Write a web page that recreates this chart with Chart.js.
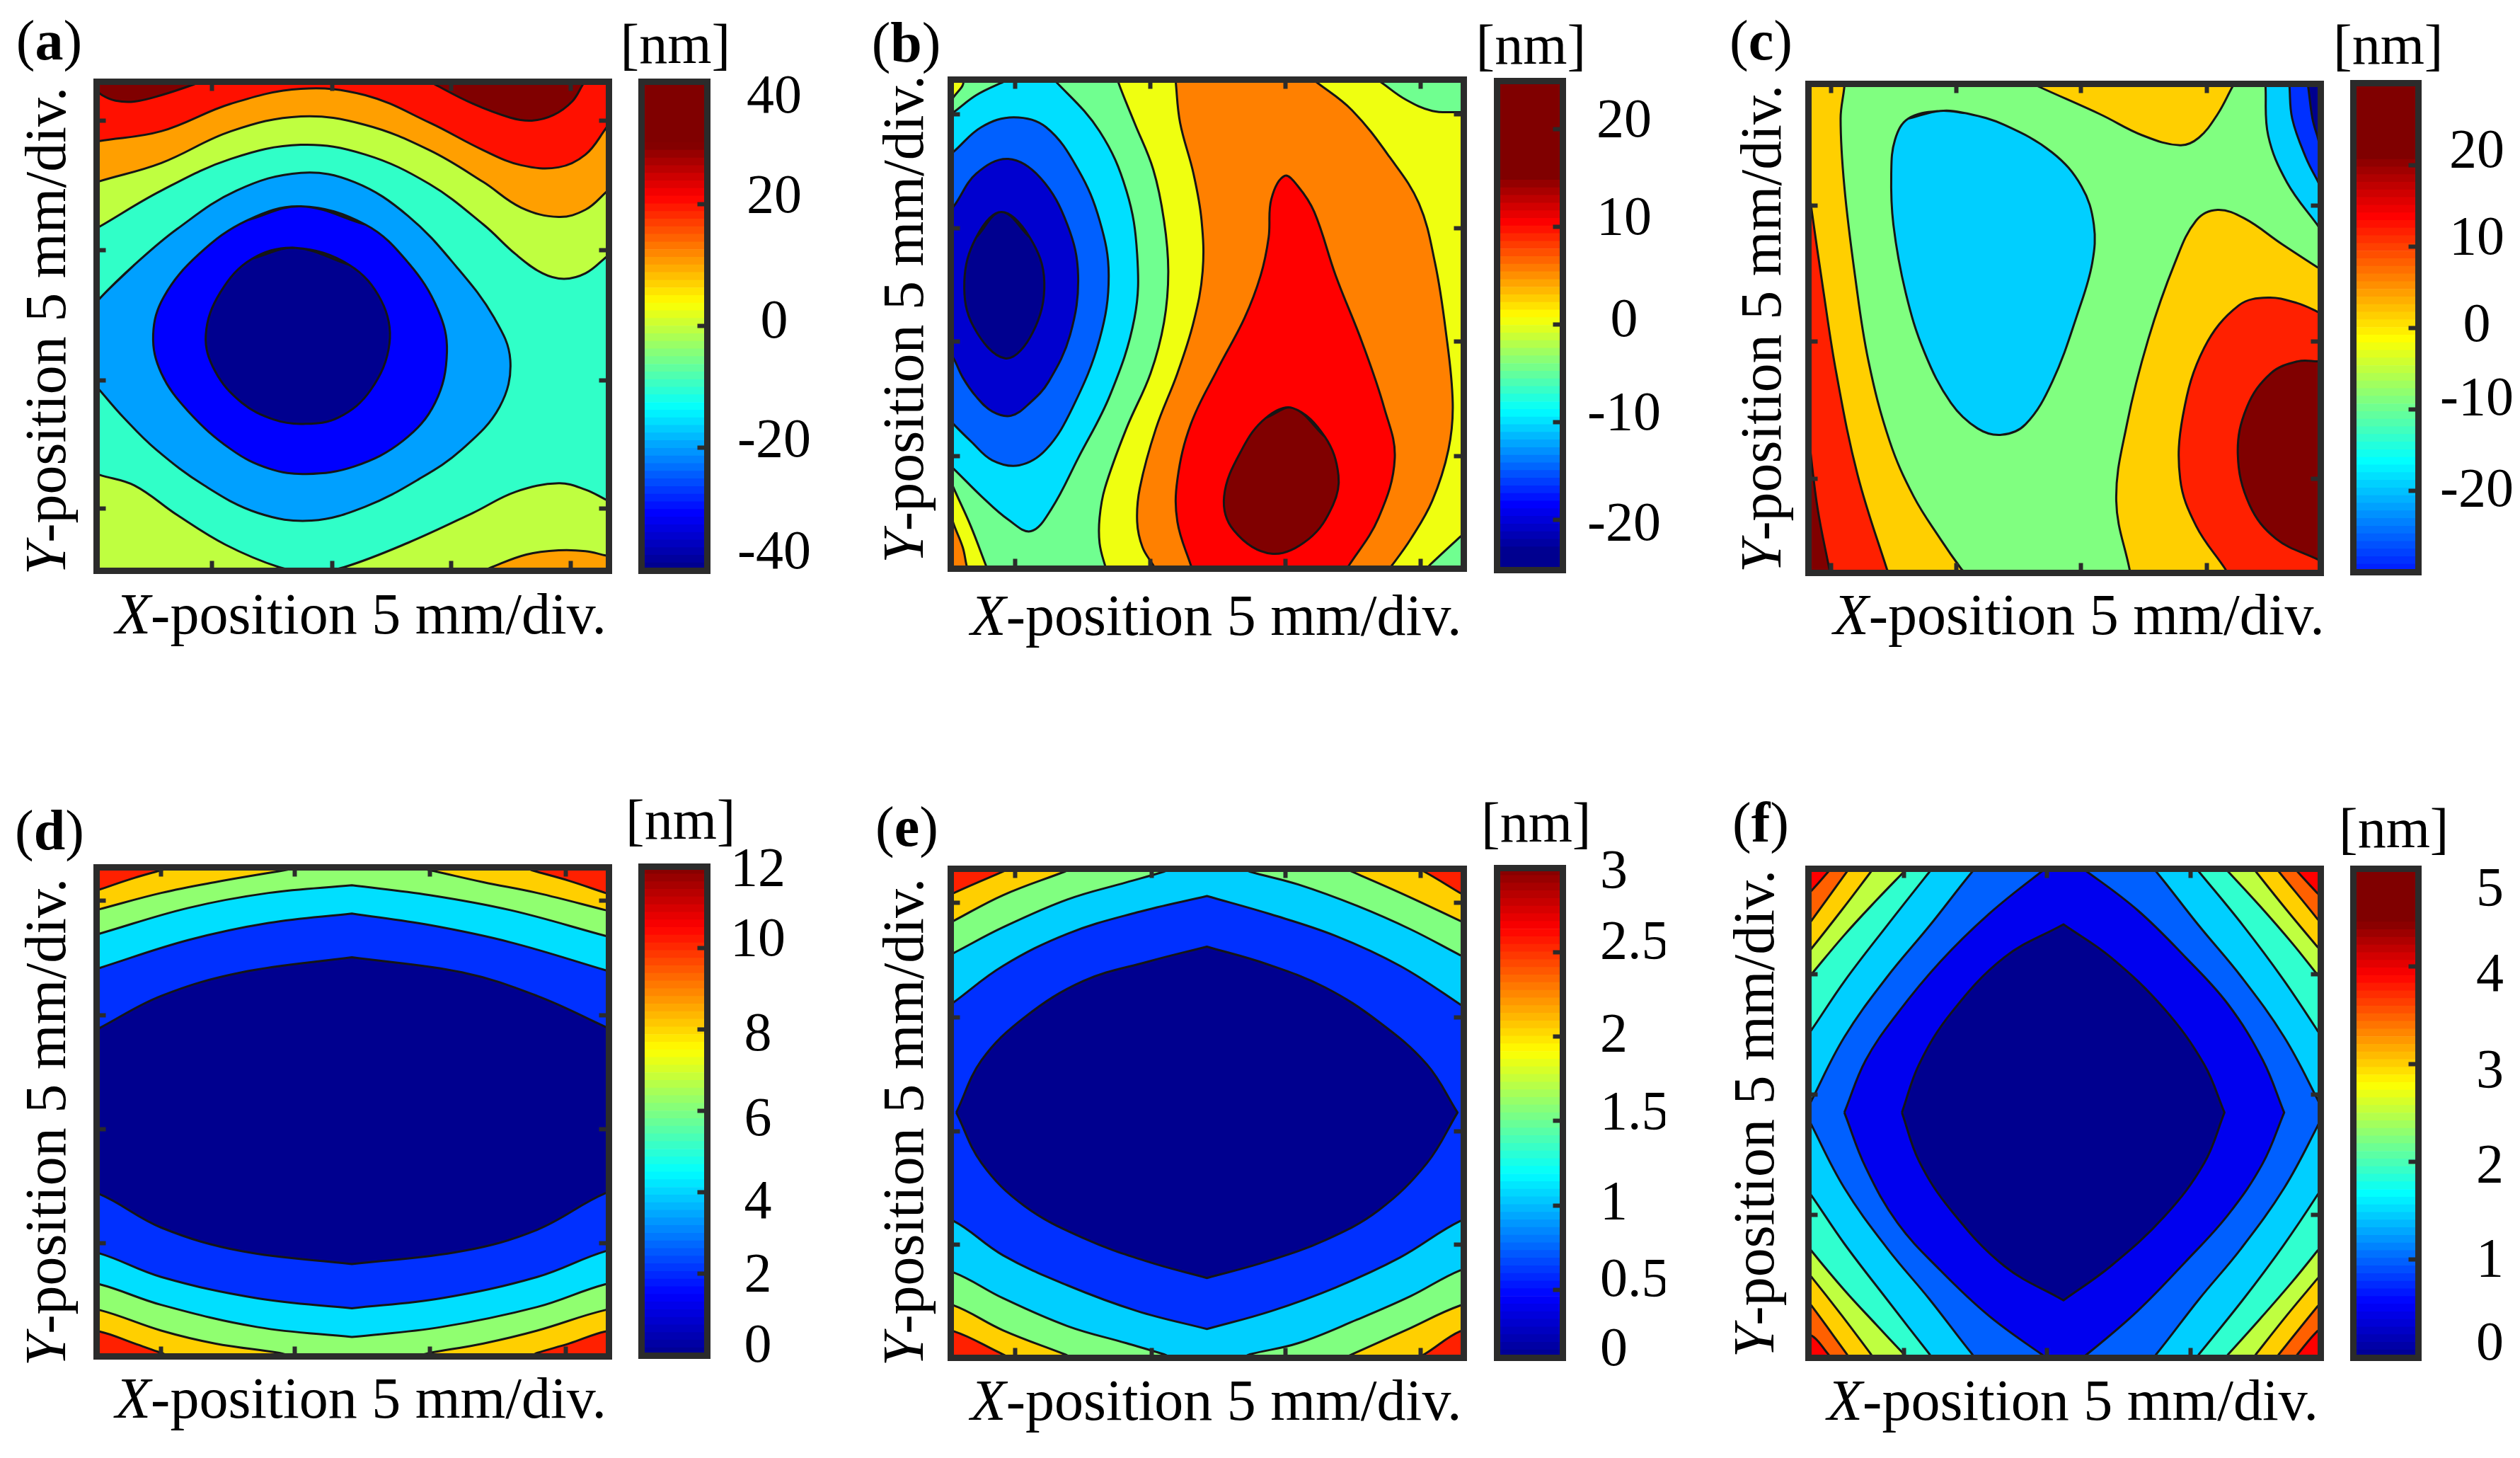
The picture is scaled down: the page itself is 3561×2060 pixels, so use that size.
<!DOCTYPE html>
<html>
<head>
<meta charset="utf-8">
<title>Contour maps</title>
<script src="https://cdn.jsdelivr.net/npm/chart.js@4"></script>
<style>
  html, body { margin: 0; padding: 0; background: #fff; overflow: hidden; }
  #page { position: relative; width: 3561px; height: 2060px; overflow: hidden; }
  canvas { position: absolute; filter: blur(0.7px); }
  .txt { position: absolute; left: 0; top: 0; transform-origin: 0 0; white-space: nowrap;
         font-family: "Liberation Serif", serif; color: #000; }
</style>
</head>
<body>
<div id="page"></div>
<script>
const aYellowGreen = [[-1.5,79.3],[0,80.3],[11.5,88.8],[24.5,96.3],[37.5,99.6],[49.5,97.3],[61.5,90.3],[71.5,80.8],[77.5,73.8],[82.5,69.3],[86.5,68],[90.5,69.3],[94.2,73],[96,75.3]];
const aOrange = [[-1.5,90.3],[0,91],[11.5,95.3],[24.5,102.8],[37.5,106.3],[49.5,104.3],[61.5,98.3],[71.5,90.8],[78.5,84.8],[85.5,82.6],[90.5,84.3],[94.2,88.3],[96,90.8]];
const aRed = [[-1.5,100.1],[0,100.5],[11.5,102.8],[24.5,109.3],[37.5,112.8],[49.5,111.3],[61.5,104.8],[71.5,98.3],[78.5,94.8],[85.5,94.3],[90.5,97.3],[94.2,103.3],[96,106.8]];
const aDarkLeft = [[-1.5,113.3],[0.5,111.3],[3,110],[6.5,109.8],[11.5,111.3],[17.5,113.8],[21.5,115.8]];
const aDarkRight = [[60.5,115.3],[62.5,113.8],[69.5,109.3],[76.5,106],[80.5,105.3],[84.5,106.6],[88,109.8],[90,113.8],[91,115.8]];
const aLowGreen = [[-1.5,22.6],[0,21.8],[6.5,19.3],[14.5,12.3],[23.5,5.3],[33.5,0],[39.5,-1.2],[45.5,0],[57.5,5.8],[69.5,12.8],[77.5,17.8],[85.5,19.8],[90.5,18.3],[94.2,16],[96,14.8]];
const aLowOrange = [[71,-1.2],[73,0],[79.5,3],[85.5,4],[90.5,3.8],[94.2,2.8],[96,2.3]];
const aAzure = [[0,63.3],[6.5,71.3],[14.5,79.8],[25.5,88.8],[37.5,93],[47.5,90.8],[57.5,82.8],[66.5,70.8],[73.5,58.8],[76.5,48.8],[74.5,37.8],[67.5,27.8],[59.5,20.8],[49.5,14.3],[39.5,11],[29.5,12.8],[19.5,19.3],[10.5,27.8],[4.5,35.3],[0,41.8],[-3.5,46.8],[-3.5,57.8]];
const aBlue = [[37.5,85.1],[27.5,81.8],[18.5,73.8],[12,63.8],[10,54.8],[11.5,45.8],[16.5,36.8],[24.5,27.8],[31.5,23.3],[38.5,22],[47.5,23.8],[56.5,29.8],[62.5,38.8],[64.7,50.8],[63,60.8],[57.5,71.8],[49.5,80.8]];
const aNavy = [[36.5,75.3],[28.5,72.8],[22.5,64.8],[19.8,54.8],[21.5,46.3],[26.5,38.8],[32.5,34.8],[38,33.8],[44.5,35.3],[50.5,41.8],[54,52.8],[52.5,62.8],[46.5,71.3]];

const bYellowLeft = [[30.7,114.7],[30.7,113.7],[33.7,104.2],[37.2,93.2],[39.2,81.2],[40,69.2],[39.2,57.2],[36.7,45.2],[32.2,32.2],[28.2,18.2],[27.2,11.2],[27.2,5.2],[28.2,0],[28.7,-1.3]];
const bYellowRight = [[87.7,-1.3],[88.7,0],[94.4,6.7],[95.7,8.2],[95.7,106.7],[94.4,106.7],[89.2,107],[84.2,109.7],[79.7,113.7],[78.2,115]];
const bOrangeLeft = [[41.4,114.7],[41.4,113.7],[42.2,104.2],[44.7,92.2],[46.2,81.2],[46.4,69.2],[44.7,57.2],[41.7,45.2],[37.7,32.2],[34.7,18.2],[34.2,10.2],[35.2,4.2],[37.2,0],[37.9,-1.3]];
const bOrangeRight = [[80.7,-1.3],[81.7,0],[85.2,6.2],[89.2,15.2],[92.2,27.2],[93,38.2],[91.7,55.2],[89.7,71.2],[86.7,85.2],[81.2,96.2],[74.2,107.2],[67.7,113.7],[66.2,115]];
const bRed = [[44.7,-1.3],[44.2,0],[41.7,10.2],[41.7,20.2],[44.2,33.2],[49.2,46.2],[54.2,58.2],[57.2,68.2],[58.7,77.2],[59.2,86.2],[61.7,91.7],[64.2,89.2],[67.2,83.2],[71.2,68.2],[76.2,52.2],[80.2,37.2],[82.2,25.2],[79.2,11.2],[73.7,0],[72.7,-1.3]];
const bDark = [[63.2,37],[58.2,34.7],[53.7,27.2],[50.4,16.2],[52.2,8.2],[59.2,2.7],[66.2,6.2],[70.7,14.2],[71.7,21.2],[69.2,30.2]];
const bCyan = [[-1.8,105.2],[0,106.7],[4.2,110.7],[8.7,113.5],[11.2,114.7],[17.7,114.7],[19.2,113.7],[27.2,102.2],[32.2,88.2],[34.2,73.2],[33.7,58.2],[29.2,40.2],[23.2,25.2],[18.2,13.2],[14.4,8],[10.2,10.7],[5.2,16.2],[0,22.7],[-1.8,24.7]];
const bAzure = [[-1.8,95.7],[0,97.4],[5.2,103.2],[11.2,105.5],[17.2,103.2],[23.2,93.2],[27.2,81.2],[28.9,68.2],[27.2,53.2],[22.2,37.2],[17.2,27.2],[12.2,23.5],[7.2,24.7],[3.2,29.2],[0,33.2],[-1.8,35.7]];
const bBlue = [[-1.8,82.2],[0,84.5],[4.2,92.2],[10.2,95.7],[16.2,91.2],[21.2,80.2],[23.2,68.2],[21.7,54.2],[17.7,43.2],[14.2,38.2],[10.7,35.2],[7.2,36.2],[4.2,39.7],[1.7,44.2],[0,48.7],[-1.8,52.2]];
const bNavy = [[8.9,83.2],[4.2,77.2],[2,66.7],[3.7,56.2],[9.7,48.7],[14.7,54.7],[16.9,66.7],[14.2,77.2]];
const bCornerYellow = [[-1.3,22.2],[0,18.2],[3.2,9.2],[6,0],[6.4,-1.3],[-5,-5]];
const bCornerOrange = [[-0.8,13.2],[0,9.7],[1.7,4.2],[2.4,0],[2.7,-1.3],[-5,-5]];
const bCornerTop = [[-0.3,109.7],[1.7,114.2],[-5,120]];

const cYellowLeft = [[6.2,115.2],[6.2,113.7],[5.5,106.2],[6.2,90.2],[8.2,69.2],[10.7,49.2],[14.7,30.2],[19.2,17.2],[24.2,7.2],[28.2,0],[29.2,-1.3],[-9,-9],[-9,125]];
const cRedLeft = [[-0.2,87.2],[0,85.2],[2.2,66.2],[4.7,46.2],[8.7,22.2],[14.2,0],[14.7,-1.3],[-9,-9],[-9,95]];
const cDarkLeft = [[-0.3,29.2],[1.2,14.2],[3.4,0],[3.6,-1.3],[-9,-9]];
const cYellowRight = [[60,-1.3],[59.7,0],[57.2,16.2],[59.2,34.2],[63.2,54.2],[68.2,72.2],[72.2,82.2],[76.2,84.7],[81.2,82.7],[88.2,76.7],[94.9,71.2],[96.2,70.2],[105,-9]];
const cRedRight = [[78.2,-1.3],[77.7,0],[72.2,10.2],[69.2,21.2],[69.7,36.2],[73.7,52.2],[80.2,62.2],[85.7,64],[91.2,62.7],[94.9,60.7],[96.2,59.7],[105,-9]];
const cDarkRight = [[96.2,1.7],[94.9,2.4],[87.2,7.2],[82.2,15.2],[80,27.2],[81.7,38.2],[86.2,46.2],[91.2,49],[94.9,49],[96.2,48.7],[105,50],[105,0]];
const cYellowTop = [[41.2,114.7],[42.7,113.7],[54.2,107.2],[62.2,102.2],[69.2,99.9],[72.7,101.7],[76.2,107.2],[79,113.7],[79.5,114.7],[79.5,125],[41.2,125]];
const cBlob = [[24.2,108],[18.2,106.2],[15.7,101.2],[15,93.2],[15.4,81.2],[17.7,65.2],[21.2,51.2],[26.2,39.2],[31.2,33.2],[35.7,31.7],[40.2,34.2],[45.2,44.2],[50.2,61.2],[52.7,72.2],[53,81.2],[50.7,90.2],[45.2,98.2],[36.2,104.7],[29.2,107.4]];
const cCyanTop = [[85.2,115.2],[85.2,113.7],[85.7,102.2],[89.2,91.2],[94.9,81.2],[96.2,79.2],[105,125]];
const cBlueTop = [[89.7,115.2],[89.7,113.7],[90.2,106.2],[92.7,97.2],[94.9,91.7],[96.2,89.2],[105,125]];
const cNavyTop = [[93,115.2],[93.2,113.7],[94,106.2],[94.9,102.2],[95.7,99.7],[105,125]];

const dYellow = [[-1.5,107.4],[0,108],[6.5,110.7],[11.5,112.5],[13.5,113.2],[79,113.2],[80.5,112.5],[87.5,110],[94.2,107.2],[95.7,106.6],[95.7,4.4],[94.2,5],[87.5,2.2],[81.5,0],[80,-0.8],[13.5,-0.8],[11.5,0],[6.5,2.2],[0,5],[-1.5,4.4]];
const dGreen = [[-1.5,102.9],[0,103.4],[11.5,107.2],[21.5,109.7],[34.5,112.5],[37.5,113.2],[58.5,113.2],[61.5,112.5],[71.5,109.7],[81.5,107.2],[94.2,103.2],[95.7,102.7],[95.7,9.4],[94.2,10],[81.5,5.2],[71.5,2.2],[61.5,0],[58.5,-0.8],[36.5,-0.8],[33.5,0],[21.5,2.2],[11.5,5.2],[0,10],[-1.5,9.4]];
const dCyan = [[-1.5,97.2],[0,97.7],[16.5,103.7],[31.5,107.2],[47,109],[47,109],[61.5,106.7],[76.5,103.2],[94.2,97.2],[95.7,96.7],[95.7,15.4],[94.2,16],[81.5,10.7],[63.5,6],[47,3.7],[47,3.7],[29.5,6],[11.5,11.2],[0,16],[-1.5,15.4]];
const dBlue = [[-1.5,89.1],[0,89.7],[16.5,96.2],[31.5,100.2],[47,102.4],[47,102.4],[61.5,99.7],[76.5,95.7],[94.2,89.2],[95.7,88.6],[95.7,23],[94.2,23.7],[81.5,17.7],[63.5,12.7],[47,10.4],[47,10.4],[29.5,12.7],[11.5,17.7],[0,23.2],[-1.5,22.5]];
const dNavy = [[-1.5,74.7],[0,75.7],[11.5,83.2],[26.5,88.7],[47,92.2],[47,92.2],[67.5,88.7],[81.5,83.2],[94.2,76],[95.7,75],[95.7,36.2],[94.2,37.2],[81.5,28.7],[67.5,23.7],[47,20.7],[47,20.7],[26.5,23.7],[11.5,29.2],[0,37],[-1.5,36]];

const eYellow = [[-1.5,106.5],[0,107.6],[9.2,112.6],[11.2,113.6],[85.7,113.6],[87.7,112.6],[94.4,107.6],[95.9,106.5],[95.9,4.4],[94.4,5.4],[87.7,0],[85.7,-1],[11.2,-1],[9.2,0],[0,5.4],[-1.5,4.3]];
const eGreen = [[-1.5,100.1],[0,101.1],[9.2,107.1],[20.7,112.6],[22.7,113.6],[72.2,113.6],[74.2,112.6],[84.2,107.1],[94.4,101.1],[95.9,100.2],[95.9,10.8],[94.4,11.4],[84.2,5.6],[74.2,0],[72.2,-1],[22.7,-1],[20.7,0],[9.2,5.6],[0,11.4],[-1.5,10.5]];
const eCyan = [[-1.5,92.7],[0,93.6],[9.2,99.6],[21.2,106.1],[32.2,110.1],[39.2,112.6],[41.2,113.6],[53.2,113.6],[55.2,112.6],[64.2,109.6],[75.2,104.6],[85.2,99.1],[94.4,93.1],[95.9,92.2],[95.9,19],[94.4,19.6],[85.2,13.6],[75.2,8.1],[64.2,2.6],[55.2,0],[53.2,-1],[41.2,-1],[39.2,0],[32.2,2.6],[21.2,6.6],[9.2,13.1],[0,19.1],[-1.5,18.2]];
const eBlue = [[-1.5,80.8],[0,82.1],[9.2,90.6],[21.2,98.1],[34.2,103.1],[47.2,106.9],[47.2,106.9],[59.2,102.6],[71.2,97.6],[83.2,90.6],[94.4,81.6],[95.9,80],[95.9,30.3],[94.4,31.1],[83.2,22.6],[71.2,15.6],[59.2,10.1],[47.2,5.9],[47.2,5.9],[34.2,10.1],[21.2,16.1],[9.2,23.1],[0,31.1],[-1.5,30]];
const eNavy = [[0.5,56.4],[0.5,56.4],[5.2,68.6],[13.2,78.6],[24.2,87.1],[36.2,91.6],[47.2,95.1],[47.2,95.1],[58.2,91.1],[69.2,85.6],[79.2,77.6],[88.2,67.6],[93.9,56.4],[93.9,56.4],[88.2,44.6],[79.2,33.6],[69.2,26.6],[58.2,21.6],[47.2,17.8],[47.2,17.8],[36.2,21.6],[24.2,27.1],[13.2,34.6],[5.2,44.6],[0.5,56.4]];

const fOrange = [[-1.5,106.5],[0,108.1],[3.2,112.6],[3.8,113.6],[90.6,113.6],[91.2,112.6],[94.9,107.6],[96.4,105.6],[96.4,6.4],[94.9,5.4],[91.2,0],[90.6,-1],[3.8,-1],[3.2,0],[0,4.4],[-1.5,2.8]];
const fYellow = [[-1.5,98.5],[0,101.1],[6.7,112.6],[7.3,113.6],[87.1,113.6],[87.7,112.6],[94.9,101.6],[96.4,99],[96.4,13.2],[94.9,11.1],[87.7,0],[87.1,-1],[7.3,-1],[6.7,0],[0,11.4],[-1.5,13.5]];
const fLime = [[-1.5,92.5],[0,94.6],[5.7,103.6],[11.2,112.6],[11.8,113.6],[82.8,113.6],[83.4,112.6],[89.2,103.6],[94.9,95.1],[96.4,93],[96.4,19.8],[94.9,17.6],[89.2,9.1],[83.4,0],[82.8,-1],[11.8,-1],[11.2,0],[5.7,9.1],[0,18.1],[-1.5,20.2]];
const fAqua = [[-1.5,86.3],[0,88.6],[6.2,97.8],[12.2,105.9],[17.4,112.6],[18.2,113.6],[77.4,113.6],[78.2,112.6],[84.2,104.5],[90.2,95.9],[94.9,88.6],[96.4,86.3],[96.4,26.5],[94.9,24.1],[90.2,16.9],[84.2,8.3],[78.2,0],[77.4,-1],[18.2,-1],[17.4,0],[12.2,6.9],[6.2,15],[0,24.2],[-1.5,26.9]];
const fCyan = [[-1.5,73.2],[0,75.6],[6.2,87],[14.2,100],[22.2,112.6],[22.9,113.6],[72,113.6],[72.7,112.6],[81,100],[88.5,87.5],[94.9,75.6],[96.4,72.3],[96.4,40.5],[94.9,37.1],[88.5,25.3],[81,12.8],[72.7,0],[72,-1],[22.9,-1],[22.2,0],[14.2,12.8],[6.2,25.8],[0,37.1],[-1.5,39.5]];
const fAzure = [[-1,56.4],[-1,56.4],[0,59.1],[6.2,74],[14.2,88],[22.2,100],[30.2,112.6],[31.2,113.6],[63.7,113.6],[64.7,112.6],[72.7,100],[80.7,88],[88.7,74],[94.9,59.6],[96,56.4],[96,56.4],[94.9,53.1],[88.7,38.8],[80.7,24.8],[72.7,12.8],[64.7,0],[63.7,-1],[31.2,-1],[30.2,0],[22.2,12.8],[14.2,24.8],[6.2,38.8],[0,53.6],[-1,56.4]];
const fBlue = [[6.2,56.4],[6.2,56.4],[10.2,68.6],[16.2,79.6],[24.2,91.6],[33.2,102.6],[43.2,112.6],[44.7,113.6],[50.2,113.6],[51.7,112.6],[61.2,103.6],[70.2,92.6],[78.2,81.6],[84.7,68.6],[88.7,56.4],[88.7,56.4],[84.7,44.6],[78.2,32.6],[70.2,21.6],[61.2,10.1],[51.7,0],[50.2,-1],[44.7,-1],[43.2,0],[33.2,9.1],[24.2,19.6],[16.2,30.6],[10.2,43.6],[6.2,56.4]];
const fNavy = [[17,56.4],[17,56.4],[20.2,67.6],[26.2,79.6],[36.2,92.6],[47.3,100.3],[47.3,100.3],[56.2,92.6],[66.2,80.6],[73.7,67.6],[77.5,56.4],[77.5,56.4],[73.7,44.6],[66.2,32.1],[56.2,20.6],[47.3,12.6],[47.3,12.6],[36.2,20.6],[26.2,33.6],[20.2,45.1],[17,56.4]];

// frame tick marks
const aTicksX = [21,43.3,65.5,87.7], aTicksY = [13.8,44.1,74.8,105.3];
const bTicksX = [11.4,36.6,61.9,87], bTicksY = [25.6,52.6,79.4,106.2];
const cTicksX = [3.7,27.2,50.6,74.2], cTicksY = [21.4,53.6,85.7];
const dTicksX = [11.5,36.3,61.5,86.8], dTicksY = [25.5,52.2,78.7,105.4];
const eTicksX = [11.4,36.9,61.9,87], eTicksY = [25.6,52,78.6,105.4];
const fTicksX = [17.4,44.2,71.2], fTicksY = [32.6,60.6,88.6];

// colour bars: range, ticks, tick text (the printed labels sit a little off their ticks)
const aBarRange = [-40.2,40.2], aBarTicks = [-20,0,20], aBarLabels = ['-40','-20','0','20','40'], aLabelAt = [-36.9,-18.5,1,21.6,38];
const bBarRange = [-25.1,25], bBarTicks = [-20,-10,0,10,20], bBarLabels = ['-20','-10','0','10','20'], bLabelAt = [-20.2,-8.9,0.65,11.1,21.1];
const cBarRange = [-30,30.1], cBarTicks = [-20,-10,0,10,20], cBarLabels = ['-20','-10','0','10','20'], cLabelAt = [-19.7,-8.5,0.6,11.3,22];
const dBarRange = [0,12], dBarTicks = [2,4,6,8,10], dBarLabels = ['0','2','4','6','8','10','12'], dLabelAt = [0.28,2.02,3.81,5.84,7.92,10.26,11.97];
const eBarRange = [0.1,3], eBarTicks = [0.5,1,1.5,2,2.5], eBarLabels = ['0','0.5','1','1.5','2','2.5','3'], eLabelAt = [0.16,0.57,1.03,1.56,2.02,2.57,2.99];
const fBarRange = [0,5], fBarTicks = [1,2,3,4], fBarLabels = ['0','1','2','3','4','5'], fLabelAt = [0.16,1.02,1.98,2.95,3.93,4.81];

const jetStops = [[0,0,143],[0,0,255],[0,255,255],[255,255,0],[255,0,0],[128,0,0]];
const jetAt = [0,0.125,0.375,0.625,0.875,1];
const barLevels = 64;

function jet(t) {
    t = Math.min(1, Math.max(0, t));
    let i = 0;
    while (i < 4 && t > jetAt[i + 1]) i++;
    const f = (t - jetAt[i]) / (jetAt[i + 1] - jetAt[i]);
    const c = jetStops[i].map((v, k) => Math.round(v + (jetStops[i + 1][k] - v) * f));
    return 'rgb(' + c.join(',') + ')';
}

// closing helpers, the extra points all lie outside the frame
const fullRect = [[-20,-20],[120,-20],[120,130],[-20,130]];
const above = c => [...c, [120,130], [-20,130]];
const below = c => [...c, [120,-20], [-20,-20]];
const ring = c => [c[c.length - 1], ...c, c[0], c[1]];

const panels = [
    { name: 'a', frame: [140.4,119.9,855.3,802], bar: [910.7,119.9,994.2,802], xMax: 94.2, yMax: 113.8, dy: 0.75,
      ticksX: aTicksX, ticksY: aTicksY, range: aBarRange, barTicks: aBarTicks, barLabels: aBarLabels, labelAt: aLabelAt,
      ramp: [-0.01,1.15], pad: 35, cross: 'center',
      xTitle: [510,896], yTitle: [92.6,467.6], letter: [22.8,84], unit: [876.6,89],
      layers: [[fullRect,'#30ffc8'],[above(aYellowGreen),'#bfff40'],[above(aOrange),'#ff9f00'],[above(aRed),'#ff1000'],
        [above(aDarkLeft),'#800000'],[above(aDarkRight),'#800000'],[below(aLowGreen),'#bfff40'],[below(aLowOrange),'#ff9f00'],
        [ring(aAzure),'#00a0ff'],[ring(aBlue),'#0000ff'],[ring(aNavy),'#00008f']] },
    { name: 'b', frame: [1347.9,116.9,2064.3,798.6], bar: [2119.7,118.1,2203.2,800.4], xMax: 94.4, yMax: 113.7, dy: 0.75,
      ticksX: bTicksX, ticksY: bTicksY, range: bBarRange, barTicks: bBarTicks, barLabels: bBarLabels, labelAt: bLabelAt,
      ramp: [-0.05,1.255], pad: 27, cross: 'center',
      xTitle: [1718.6,898], yTitle: [1305,451], letter: [1231.7,87], unit: [2085.6,90],
      layers: [[fullRect,'#70ff90'],[[...bYellowLeft,...bYellowRight],'#efff10'],[bCornerYellow,'#efff10'],[bCornerOrange,'#ff8000'],[bCornerTop,'#efff10'],
        [[...bOrangeLeft,...bOrangeRight],'#ff8000'],[bRed,'#ff0000'],[ring(bDark),'#800000'],
        [bCyan,'#00dfff'],[bAzure,'#0060ff'],[bBlue,'#0000cf'],[ring(bNavy),'#00008f']] },
    { name: 'c', frame: [2559.3,122.9,3274,804.6], bar: [3329,121.7,3411.9,803.4], xMax: 94.9, yMax: 113.7, dy: 0.75,
      ticksX: cTicksX, ticksY: cTicksY, range: cBarRange, barTicks: cBarTicks, barLabels: cBarLabels, labelAt: cLabelAt,
      ramp: [0.15,1.148], pad: 23, cross: 'center',
      xTitle: [2937.7,897], yTitle: [2517,464.6], letter: [2444,84], unit: [3297,90],
      layers: [[fullRect,'#80ff80'],[cYellowLeft,'#ffcf00'],[cRedLeft,'#ff2000'],[cDarkLeft,'#800000'],
        [cYellowRight,'#ffcf00'],[cRedRight,'#ff2000'],[cDarkRight,'#800000'],[cYellowTop,'#ffcf00'],
        [ring(cBlob),'#00cfff'],[cCyanTop,'#00cfff'],[cBlueTop,'#0030ff'],[cNavyTop,'#00008f']] },
    { name: 'd', frame: [140.4,1229.4,855.3,1911], bar: [910.7,1228.1,994.2,1909.8], xMax: 94.2, yMax: 112.5, dy: 0.74,
      ticksX: dTicksX, ticksY: dTicksY, range: dBarRange, barTicks: dBarTicks, barLabels: dBarLabels, labelAt: dLabelAt,
      ramp: [0,1], pad: 25, cross: 'center',
      xTitle: [510,2003.7], yTitle: [92.6,1585.6], letter: [21,1200], unit: [884,1185],
      layers: [[fullRect,'#ff2000'],[dYellow,'#ffcf00'],[dGreen,'#90ff70'],[dCyan,'#00dfff'],[dBlue,'#0030ff'],[dNavy,'#00008f']] },
    { name: 'e', frame: [1347.9,1231.2,2064.3,1913.4], bar: [2119.7,1230,2203.2,1912.8], xMax: 94.4, yMax: 112.6, dy: 0.74,
      ticksX: eTicksX, ticksY: eTicksY, range: eBarRange, barTicks: eBarTicks, barLabels: eBarLabels, labelAt: eLabelAt,
      ramp: [0,1], pad: 45, cross: 'near',
      xTitle: [1718.6,2006.7], yTitle: [1305,1585.6], letter: [1237,1195], unit: [2093,1189],
      layers: [[fullRect,'#ff2000'],[eYellow,'#ffcf00'],[eGreen,'#80ff80'],[eCyan,'#00cfff'],[eBlue,'#0030ff'],[eNavy,'#00008f']] },
    { name: 'f', frame: [2559.3,1231.2,3274,1913.4], bar: [3329,1231.2,3411.9,1912.8], xMax: 94.9, yMax: 112.6, dy: 0.74,
      ticksX: fTicksX, ticksY: fTicksY, range: fBarRange, barTicks: fBarTicks, barLabels: fBarLabels, labelAt: fLabelAt,
      ramp: [0,1.12], pad: 74, cross: 'center',
      xTitle: [2929,2006.7], yTitle: [2506.5,1573.5], letter: [2448,1189], unit: [3305,1197],
      layers: [[fullRect,'#ff0000'],[fOrange,'#ff6000'],[fYellow,'#ffcf00'],[fLime,'#bfff40'],[fAqua,'#30ffcf'],[fCyan,'#00cfff'],[fAzure,'#0060ff'],[fBlue,'#0000ef'],[fNavy,'#00008f']] }
];

const frameWidth = 9;
const page = document.getElementById('page');

function addCanvas(left, top, width, height) {
    const cv = document.createElement('canvas');
    cv.width = Math.round(width);
    cv.height = Math.round(height);
    cv.style.left = Math.round(left) + 'px';
    cv.style.top = Math.round(top) + 'px';
    cv.style.width = Math.round(width) + 'px';
    cv.style.height = Math.round(height) + 'px';
    page.appendChild(cv);
    return cv;
}

// grid has to draw before the border, the border position is worked out in the grid pass
function edgeAxis(position, min, max, ticks) {
    const horizontal = position === 'top' || position === 'bottom';
    return {
        type: 'linear', position: position, min: min, max: max,
        afterBuildTicks: s => { s.ticks = (ticks || []).map(v => ({ value: v })); },
        afterFit: s => { if (horizontal) s.height = 0; else s.width = 0; },
        border: { display: true, width: frameWidth, color: '#2b2b2b', z: 3 },
        grid: { drawOnChartArea: false, drawTicks: true, tickLength: -(frameWidth / 2 + 9), tickWidth: 6,
                tickColor: '#2b2b2b', lineWidth: frameWidth, z: 2 },
        ticks: { display: false, autoSkip: false }
    };
}

function drawContours(p) {
    const pad = 20;
    const [l, t, r, b] = p.frame;
    const cv = addCanvas(l - frameWidth / 2 - pad, t - frameWidth / 2 - pad,
                         r - l + frameWidth + 2 * pad, b - t + frameWidth + 2 * pad);
    const datasets = p.layers.map(([pts, color], i) => ({
        data: pts.map(([x, y]) => ({ x: x, y: y })),
        order: -i,
        fill: 'shape',
        backgroundColor: color,
        borderColor: i === 0 ? 'rgba(0,0,0,0)' : '#151515',
        borderWidth: i === 0 ? 0 : 3,
        tension: i === 0 ? 0 : 0.38,
        capBezierPoints: false,
        borderJoinStyle: 'round',
        pointRadius: 0
    }));
    new Chart(cv, {
        type: 'line',
        data: { datasets: datasets },
        options: {
            responsive: false, animation: false, devicePixelRatio: 1,
            layout: { padding: pad },
            plugins: { legend: { display: false }, tooltip: { enabled: false } },
            scales: {
                x: edgeAxis('bottom', -0.6, p.xMax + 0.6, p.ticksX),
                xTop: edgeAxis('top', -0.6, p.xMax + 0.6, p.ticksX),
                y: edgeAxis('left', -p.dy, p.yMax + p.dy, p.ticksY),
                yRight: edgeAxis('right', -p.dy, p.yMax + p.dy, p.ticksY)
            }
        }
    });
}

function drawColorBar(p) {
    const padY = 70, padL = 20, labelRoom = 145;
    const [l, t, r, b] = p.bar;
    const cv = addCanvas(l - frameWidth / 2 - padL, t - frameWidth / 2 - padY,
                         r - l + frameWidth + padL + labelRoom, b - t + frameWidth + 2 * padY);
    const [lo, hi] = p.range;
    const step = (hi - lo) / barLevels;
    const bands = [];
    for (let i = 0; i < barLevels; i++) {
        bands.push({
            data: [[lo + i * step, lo + (i + 1) * step]],
            backgroundColor: jet(p.ramp[0] + (p.ramp[1] - p.ramp[0]) * (i + 0.5) / barLevels),
            borderWidth: 0, barPercentage: 1, categoryPercentage: 1, grouped: false
        });
    }
    new Chart(cv, {
        type: 'bar',
        data: { labels: [''], datasets: bands },
        options: {
            responsive: false, animation: false, devicePixelRatio: 1,
            layout: { padding: { left: padL, top: padY, bottom: padY, right: 0 } },
            plugins: { legend: { display: false }, tooltip: { enabled: false } },
            scales: {
                x: {
                    type: 'category', position: 'bottom',
                    afterFit: s => { s.height = 0; },
                    border: { display: true, width: frameWidth, color: '#2b2b2b', z: 3 },
                    grid: { drawOnChartArea: false, drawTicks: false, lineWidth: frameWidth, z: 2 },
                    ticks: { display: false }
                },
                xTop: edgeAxis('top', 0, 1, []),
                y: edgeAxis('left', lo, hi, []),
                yMarks: Object.assign(edgeAxis('right', lo, hi, p.barTicks), { weight: 0 }),
                yLabels: {
                    type: 'linear', position: 'right', min: lo, max: hi, weight: 1,
                    afterBuildTicks: s => { s.ticks = p.labelAt.map(v => ({ value: v })); },
                    afterFit: s => { s.width = labelRoom; s.paddingTop = 0; s.paddingBottom = 0; },
                    border: { display: false },
                    grid: { display: false },
                    ticks: {
                        autoSkip: false, maxRotation: 0, minRotation: 0, padding: p.pad, crossAlign: p.cross, labelOffset: 5,
                        color: '#000', font: { family: '"Liberation Serif", serif', size: 78 },
                        callback: (v, i) => p.barLabels[i]
                    }
                }
            }
        }
    });
}

function addText(html, x, y, size, opts) {
    const o = opts || {};
    const d = document.createElement('div');
    d.className = 'txt';
    d.innerHTML = html;
    d.style.fontSize = size + 'px';
    d.style.lineHeight = size + 'px';
    const shift = 'translate(' + (o.center ? '-50%' : '0') + ',' + (-0.8375 * size) + 'px)';
    d.style.transform = 'translate(' + x + 'px,' + y + 'px) ' + (o.rotate ? 'rotate(-90deg) ' : '') + shift;
    page.appendChild(d);
}

panels.forEach(p => {
    drawContours(p);
    drawColorBar(p);
    addText('<i>X</i>-position 5 mm/div.', p.xTitle[0], p.xTitle[1], 82, { center: true });
    addText('<i>Y</i>-position 5 mm/div.', p.yTitle[0], p.yTitle[1], 82, { center: true, rotate: true });
    addText('(<b>' + p.name + '</b>)', p.letter[0], p.letter[1], 80);
    addText('[nm]', p.unit[0], p.unit[1], 80);
});
</script>
</body>
</html>
